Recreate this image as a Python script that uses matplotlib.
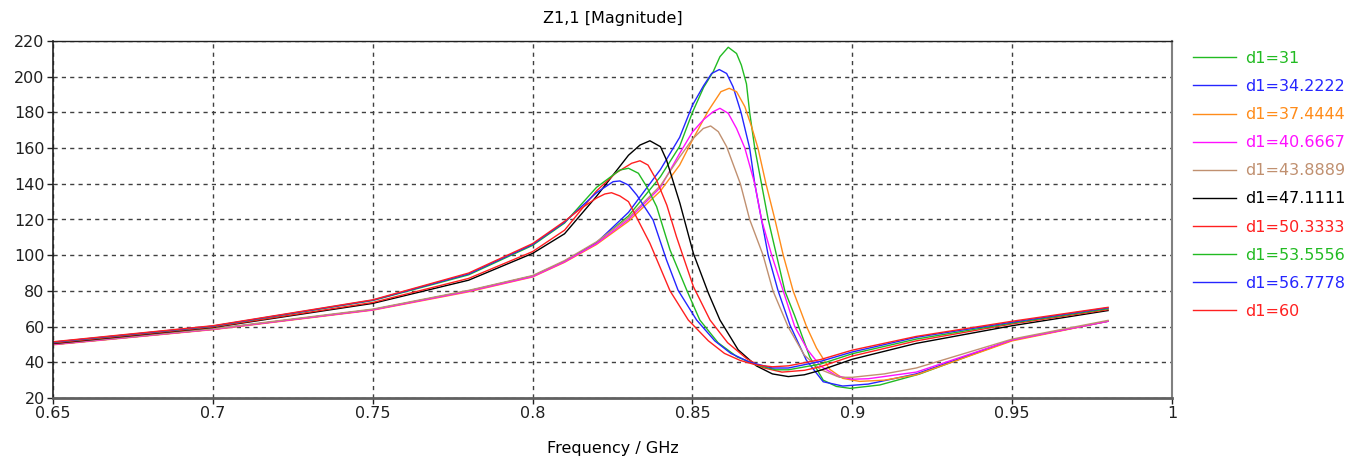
"""
Z1,1 magnitude vs frequency, parameter sweep over d1.
"""

import matplotlib
matplotlib.use("Agg")
import matplotlib.pyplot as plt
from matplotlib.ticker import FormatStrFormatter, MultipleLocator

# ---- data (GHz, Ohm) ----
F_31 = [0.65, 0.70, 0.75, 0.78, 0.80, 0.81, 0.82, 0.83, 0.84, 0.846, 0.85, 0.8535, 0.8565,
        0.8586, 0.8612, 0.8638, 0.8653, 0.8669, 0.8679, 0.8695, 0.8716, 0.8737, 0.8763,
        0.8789, 0.882, 0.8867, 0.8909, 0.895, 0.8993, 0.9086, 0.921, 0.95, 0.98]
Z_31 = [50.0, 58.5, 69.5, 80.0, 88.3, 96.5, 107, 122, 144, 161, 180, 194, 202.8,
        211.2, 216.5, 213, 206.5, 196, 180, 160, 140, 120, 100,
        80, 66, 43, 30, 26.5, 25.4, 27.3, 33.4, 52.5, 63.0]

F_34 = [0.65, 0.70, 0.75, 0.78, 0.80, 0.81, 0.82, 0.83, 0.84, 0.846, 0.85, 0.8535, 0.856,
        0.8584, 0.8607, 0.8627, 0.8652, 0.8679, 0.8695, 0.8716, 0.8737, 0.8768, 0.8805,
        0.8856, 0.8909, 0.897, 0.905, 0.92, 0.95, 0.98]
Z_34 = [50.0, 58.5, 69.5, 80.0, 88.3, 96.5, 107, 124, 148, 166, 184, 195, 201.8,
        204.0, 201.8, 194.4, 180, 160, 140, 120, 100, 80, 60.9,
        41.3, 29.1, 26.7, 27.8, 33.5, 52.5, 63.0]

F_37 = [0.65, 0.70, 0.75, 0.78, 0.80, 0.81, 0.82, 0.83, 0.84, 0.846, 0.85, 0.855, 0.8589,
        0.8615, 0.8638, 0.8664, 0.8685, 0.8705, 0.873, 0.8758, 0.8784, 0.8815, 0.8857,
        0.8888, 0.893, 0.897, 0.9023, 0.91, 0.92, 0.95, 0.98]
Z_37 = [49.8, 58.3, 69.2, 79.5, 87.8, 96.0, 106, 119, 136, 150.5, 164.5, 181, 191.6,
        193.5, 191.6, 183.2, 172, 160, 140, 120, 100, 80, 60,
        48, 36, 31, 29.3, 30.0, 33.0, 52.0, 63.0]

F_40 = [0.65, 0.70, 0.75, 0.78, 0.80, 0.81, 0.82, 0.83, 0.84, 0.846, 0.85, 0.8535, 0.8565,
        0.8586, 0.8612, 0.8638, 0.8664, 0.8695, 0.8716, 0.8748, 0.8784, 0.882, 0.886,
        0.89, 0.895, 0.90, 0.905, 0.92, 0.95, 0.98]
Z_40 = [50.0, 58.5, 69.4, 79.8, 88.0, 96.3, 106.5, 120, 138, 157, 169, 176, 180.4,
        182.3, 179.5, 171, 160, 140, 120, 100, 80, 60, 47,
        38, 32.5, 30.5, 30.8, 34.5, 52.5, 63.0]

F_43 = [0.65, 0.70, 0.75, 0.78, 0.80, 0.81, 0.82, 0.83, 0.84, 0.846, 0.85, 0.8534,
        0.8557, 0.8581, 0.8607, 0.865, 0.8679, 0.8721, 0.8752, 0.8799, 0.885, 0.89,
        0.896, 0.90, 0.91, 0.92, 0.95, 0.98]
Z_43 = [50.3, 58.8, 69.8, 80.3, 88.6, 97.0, 107.5, 121, 139, 155, 165, 171,
        172.4, 169.2, 160.8, 140, 120, 100, 80, 60, 44, 36,
        31.6, 31.6, 33.5, 36.8, 53.0, 63.5]

F_47 = [0.65, 0.70, 0.75, 0.78, 0.80, 0.81, 0.82, 0.83, 0.8336, 0.8367, 0.84, 0.8419,
        0.8461, 0.8503, 0.855, 0.8586, 0.8643, 0.87, 0.875, 0.88, 0.885, 0.89, 0.90,
        0.92, 0.95, 0.98]
Z_47 = [50.5, 59.5, 73.0, 86.0, 101, 112, 133, 156, 161.7, 164.1, 160.8, 153.3,
        129, 101, 78.7, 63.7, 47, 38, 33.5, 32, 33, 35.5, 41.7,
        50.6, 60.5, 69.0]

F_50 = [0.65, 0.70, 0.75, 0.78, 0.80, 0.81, 0.82, 0.826, 0.831, 0.8336, 0.8361, 0.8388,
        0.842, 0.845, 0.8503, 0.8555, 0.861, 0.867, 0.872, 0.878, 0.885, 0.89, 0.90,
        0.92, 0.95, 0.98]
Z_50 = [50.8, 59.8, 73.5, 87.0, 102, 114, 136, 146, 151.5, 152.9, 150.5, 142,
        128, 110.4, 82.4, 63.7, 51, 42, 37, 34.5, 35.5, 37.5, 43.5,
        52.0, 61.5, 69.5]

F_53 = [0.65, 0.70, 0.75, 0.78, 0.80, 0.81, 0.82, 0.8273, 0.830, 0.8331, 0.8357, 0.8388,
        0.843, 0.8482, 0.8523, 0.858, 0.864, 0.87, 0.876, 0.88, 0.89, 0.90, 0.92, 0.95, 0.98]
Z_53 = [51.2, 60.2, 74.6, 89.0, 105.5, 118, 138, 147.7, 148.7, 145.9, 138.4, 127.2,
        102.9, 80.5, 63.7, 51, 43, 38.5, 35.8, 35.8, 39, 44.8, 53.0, 62.0, 70.0]

F_56 = [0.65, 0.70, 0.75, 0.78, 0.80, 0.81, 0.82, 0.8252, 0.8273, 0.830, 0.8326, 0.8377,
        0.8419, 0.8455, 0.8513, 0.857, 0.862, 0.868, 0.875, 0.88, 0.89, 0.90, 0.92, 0.95, 0.98]
Z_56 = [51.3, 60.3, 74.8, 89.5, 106, 118.5, 135, 141.2, 141.6, 139.3, 133.7, 119.7,
        97.3, 80.4, 63.7, 52, 45, 40, 36.8, 36.8, 40.5, 45.8, 54.0, 62.5, 70.5]

F_60 = [0.65, 0.70, 0.75, 0.78, 0.80, 0.81, 0.815, 0.82, 0.8226, 0.8247, 0.8273, 0.830,
        0.8367, 0.843, 0.8487, 0.855, 0.86, 0.865, 0.87, 0.875, 0.88, 0.89, 0.90, 0.92,
        0.95, 0.98]
Z_60 = [51.5, 60.5, 75.0, 90.0, 106.5, 119, 126, 132, 134.3, 135, 133.2, 130,
        106.7, 80, 63.7, 52, 45, 41, 38.5, 37.5, 38, 41.5, 46.8, 54.5,
        63.0, 70.8]

LABELS = ["d1=31", "d1=34.2222", "d1=37.4444", "d1=40.6667", "d1=43.8889",
          "d1=47.1111", "d1=50.3333", "d1=53.5556", "d1=56.7778", "d1=60"]
FREQS = [F_31, F_34, F_37, F_40, F_43, F_47, F_50, F_53, F_56, F_60]
MAGS = [Z_31, Z_34, Z_37, Z_40, Z_43, Z_47, Z_50, Z_53, Z_56, Z_60]

COLORS = ["#22bb22", "#2525ff", "#ff8c1a", "#ff10ff", "#c09070",
          "#000000", "#ff2020", "#22bb22", "#2525ff", "#ff2020"]


def main():
    fig = plt.figure(figsize=(13.59, 4.61), dpi=100)
    ax = fig.add_axes([53 / 1359, 63 / 461, (1172 - 53) / 1359, (398 - 41) / 461])

    for f, z, c in zip(FREQS, MAGS, COLORS):
        ax.plot(f, z, color=c, linewidth=1.0)

    ax.set_xlim(0.65, 1.0)
    ax.set_ylim(20, 220)
    ax.xaxis.set_major_locator(MultipleLocator(0.05))
    ax.yaxis.set_major_locator(MultipleLocator(20))
    ax.xaxis.set_major_formatter(FormatStrFormatter("%g"))
    ax.tick_params(axis="both", direction="out", length=4, width=1,
                   labelsize=11.5, colors="#202020", pad=2)
    ax.grid(True, color="#404040", linestyle=(0, (3, 3)), linewidth=1.0)

    ax.spines["top"].set_color("#202020")
    ax.spines["top"].set_linewidth(1.0)
    ax.spines["left"].set_color("#202020")
    ax.spines["left"].set_linewidth(1.2)
    ax.spines["bottom"].set_color("#606060")
    ax.spines["bottom"].set_linewidth(2.0)
    ax.spines["right"].set_color("#808080")
    ax.spines["right"].set_linewidth(1.5)

    ax.set_title("Z1,1 [Magnitude]", fontsize=11.5, pad=13)
    ax.set_xlabel("Frequency / GHz", fontsize=11.5, labelpad=14)

    # legend: colored line + text in the same color
    leg = ax.legend(LABELS, loc="upper left", bbox_to_anchor=(1.0135, 0.99),
                    frameon=False, fontsize=11.5, handlelength=2.65,
                    handletextpad=0.6, labelspacing=0.82, borderaxespad=0)
    for txt, c in zip(leg.get_texts(), COLORS):
        txt.set_color(c)

    fig.savefig("out.png", dpi=100, facecolor="white")


if __name__ == "__main__":
    main()
